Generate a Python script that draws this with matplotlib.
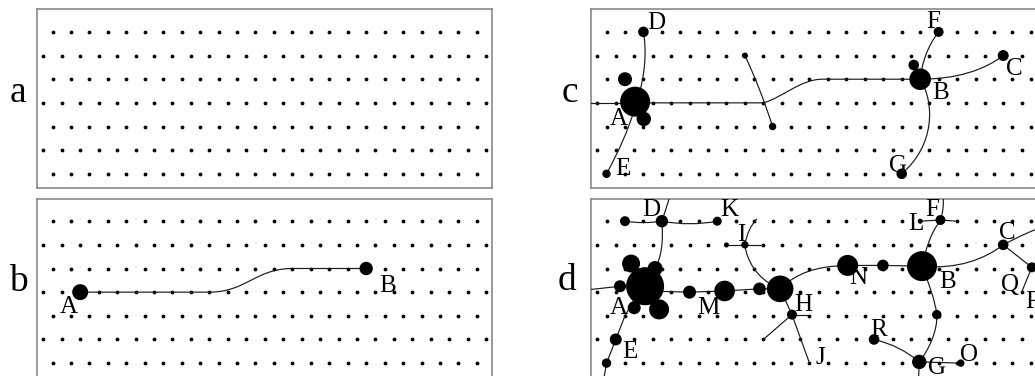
import numpy as np
import matplotlib
matplotlib.use("Agg")
import matplotlib.pyplot as plt
from matplotlib.path import Path
from matplotlib.patches import PathPatch

plt.rcParams['font.family'] = ['Liberation Serif', 'DejaVu Serif']

W, H = 1035, 376
fig = plt.figure(figsize=(W / 100, H / 100), dpi=100)

# ---------------- data ----------------
N_ROWS = 7
EVEN_ROW_COLS = [c + 0.5 for c in range(24)]
ODD_ROW_COLS = [float(c) for c in range(25)]

PANEL_NAMES = ["a", "b", "c", "d"]

# nodes: (x, y, radius_px)
NODES_A = []
NODES_B = [(2, 3, 8), (17.5, 2, 6.7)]
NODES_C = [(2.05, 2.95, 15), (1.5, 2.0, 7), (2.52, 3.68, 7.2), (2.5, 0, 5.3),
           (0.5, 6, 4.2), (8, 1, 3.0), (9.5, 4, 3.7), (17.5, 2, 10.8),
           (17.15, 1.4, 5.3), (18.5, 0, 5), (22, 1, 5.5), (16.5, 6, 5.3)]
NODES_D = [(2.59, 2.75, 19), (1.83, 1.79, 9), (3.13, 2.0, 7.5), (1.23, 2.75, 6),
           (2.0, 3.66, 6.5), (3.35, 3.73, 10), (5, 3, 6.5), (6.9, 2.95, 10.3),
           (8.79, 2.86, 6.3), (9.91, 2.86, 13.3), (1.5, 0, 5), (3.5, 0, 6.2),
           (6.5, 0, 4.5), (8, 1, 3.7), (7, 1, 2.5), (10.55, 3.95, 5),
           (13.57, 1.87, 10.5), (15.48, 1.87, 5.8), (17.6, 1.9, 15),
           (17.5, 0, 2.5), (18.6, -0.05, 5), (22, 1, 5.3), (23.55, 1.95, 5),
           (18.4, 3.95, 4.7), (15, 5, 5.3), (17.45, 5.95, 7.2), (19.7, 6, 3.7),
           (1, 5, 6), (0.5, 6, 4.7)]

# edges: (codes, points)  M=move, L=line, Q=quadratic, C=cubic
EDGES_A = []
EDGES_B = [("MLCCCL", [(2, 3), (9, 3), (11, 3), (11.5, 2), (13.5, 2), (17.5, 2)])]
EDGES_C = [
    ("ML", [(-0.5, 3), (2, 3)]),
    ("MLCCCL", [(2, 3), (9, 3), (10, 2.8), (11, 2.0), (12.2, 2.0), (17.5, 2)]),
    ("MQQ", [(8, 1), (8.8, 2.3), (9.5, 4)]),
    ("MCCC", [(2.5, 0), (2.68, 0.8), (2.6, 1.8), (2.2, 2.8)]),
    ("MQQ", [(2.0, 3.3), (1.55, 4.5), (0.5, 6)]),
    ("MCCC", [(17.5, 2), (17.6, 1.3), (17.9, 0.6), (18.5, 0)]),
    ("MCCC", [(17.5, 2), (19.5, 2), (21, 1.6), (22, 1)]),
    ("MCCC", [(17.5, 2), (18.3, 3), (18.3, 4.8), (16.5, 6)]),
]
EDGES_D = [
    ("ML", [(-0.5, 2.9), (1.23, 2.75)]),
    ("MLLLL", [(2.59, 2.95), (5, 3), (6.9, 2.95), (8.79, 2.86), (9.91, 2.86)]),
    ("MQQ", [(1.5, 0), (2.5, 0.12), (3.5, 0)]),
    ("MQQ", [(3.5, 0), (5.0, 0.22), (6.5, 0)]),
    ("MQQ", [(3.5, 0), (3.72, -0.5), (3.95, -1.1)]),
    ("MCCC", [(3.5, 0), (3.58, 0.8), (3.5, 1.5), (3.13, 2.0)]),
    ("MQQ", [(8, 1), (8.15, 0.3), (8.65, -0.1)]),
    ("MLL", [(7, 1), (8, 1), (9, 1)]),
    ("MCCC", [(8, 1), (8.1, 1.7), (8.7, 2.4), (9.6, 2.75)]),
    ("MCCC", [(9.91, 2.86), (10.8, 2.2), (11.8, 1.9), (13.57, 1.87)]),
    ("MLL", [(13.57, 1.87), (15.48, 1.87), (17.6, 1.9)]),
    ("ML", [(9.91, 2.86), (10.55, 3.95)]),
    ("ML", [(10.55, 3.95), (11.5, 3.95)]),
    ("ML", [(10.55, 3.95), (9.0, 5.0)]),
    ("ML", [(10.55, 3.95), (11.5, 6.0)]),
    ("MLL", [(17.5, 0), (18.6, -0.05), (19.5, 0)]),
    ("MQQ", [(18.6, -0.05), (18.8, -0.5), (18.75, -1.1)]),
    ("MCCC", [(18.6, 0), (18.1, 0.4), (17.8, 1.2), (17.6, 1.9)]),
    ("MCCC", [(17.6, 1.9), (19.5, 2.05), (21, 1.6), (22, 1)]),
    ("MQQ", [(22, 1), (23.3, 0.45), (24.6, 0.1)]),
    ("MLL", [(22, 1), (23.55, 1.95), (23, 3)]),
    ("MCCC", [(17.6, 1.9), (17.95, 2.6), (18.3, 3.3), (18.4, 3.95)]),
    ("MCCC", [(18.4, 3.95), (18.45, 4.6), (18.0, 5.4), (17.45, 5.95)]),
    ("MQQ", [(15, 5), (16.4, 5.25), (17.45, 5.95)]),
    ("ML", [(17.45, 5.95), (19.7, 6)]),
    ("ML", [(17.45, 5.95), (17.4, 6.9)]),
    ("MLLLL", [(2.0, 3.3), (1.5, 4.0), (1.0, 5.0), (0.5, 6.0), (0.3, 6.9)]),
]

# labels: (text, x_center, y_center)
LABELS_A = []
LABELS_B = [("A", 1.4, 3.52), ("B", 18.65, 2.64)]
LABELS_C = [("D", 3.22, -0.47), ("A", 1.14, 3.59), ("E", 1.36, 5.71),
            ("F", 18.23, -0.49), ("B", 18.63, 2.49), ("C", 22.61, 1.48),
            ("G", 16.28, 5.56)]
LABELS_D = [("D", 2.95, -0.57), ("K", 7.15, -0.57), ("I", 7.8, 0.49),
            ("A", 1.14, 3.56), ("M", 6.02, 3.59), ("H", 11.18, 3.45),
            ("E", 1.77, 5.45), ("J", 12.08, 5.68), ("N", 14.13, 2.3),
            ("B", 18.96, 2.49), ("L", 17.27, 0.04), ("F", 18.14, -0.57),
            ("C", 22.21, 0.42), ("Q", 22.39, 2.6), ("P", 23.57, 3.31),
            ("R", 15.25, 4.51), ("G", 18.42, 6.1), ("O", 20.13, 5.56)]

# ---------------- layout (pixels) ----------------
BOX_W, BOX_H = 455, 179
panel_boxes = {"a": (37, 9.3), "b": (37, 198.6), "c": (591, 9.3), "d": (591, 198.6)}
label_pos = {"a": (18, 102), "b": (18, 291), "c": (570, 102), "d": (567, 290)}
DX, DY = 18.45, 23.65
X_OFF, Y_OFF = 6.3, 22.6
LETTER_SIZE = 18
PANEL_LABEL_SIZE = 27

panels = {
    "a": (NODES_A, EDGES_A, LABELS_A),
    "b": (NODES_B, EDGES_B, LABELS_B),
    "c": (NODES_C, EDGES_C, LABELS_C),
    "d": (NODES_D, EDGES_D, LABELS_D),
}

CODE_MAP = {"M": Path.MOVETO, "L": Path.LINETO, "Q": Path.CURVE3, "C": Path.CURVE4}
LINE_COLOR = "#1a1a1a"
cap_rows = LETTER_SIZE * 100 / 72 * 0.655 / DY

for name in PANEL_NAMES:
    left, top = panel_boxes[name]
    ax = fig.add_axes([left / W, 1 - (top + BOX_H) / H, BOX_W / W, BOX_H / H])
    ax.set_xlim(-X_OFF / DX, (BOX_W - X_OFF) / DX)
    ax.set_ylim((BOX_H - Y_OFF) / DY, -Y_OFF / DY)
    ax.set_xticks([])
    ax.set_yticks([])
    for sp in ax.spines.values():
        sp.set_color("#8a8a8a")
        sp.set_linewidth(1.2)

    # grid dots
    gx, gy = [], []
    for r in range(N_ROWS):
        cols = EVEN_ROW_COLS if r % 2 == 0 else ODD_ROW_COLS
        gx.extend(cols)
        gy.extend([r] * len(cols))
    ax.scatter(gx, gy, s=(3.8 * 0.72) ** 2, color="black", linewidths=0, zorder=2)

    nodes, edges, labels = panels[name]
    for codes, pts in edges:
        path = Path(pts, [CODE_MAP[c] for c in codes])
        ax.add_patch(PathPatch(path, facecolor="none", edgecolor=LINE_COLOR,
                               linewidth=0.85, zorder=3))
    if nodes:
        nx = [n[0] for n in nodes]
        ny = [n[1] for n in nodes]
        ns = [(2 * n[2] * 0.72) ** 2 for n in nodes]
        ax.scatter(nx, ny, s=ns, color="black", linewidths=0, zorder=4)
    for txt, x, y in labels:
        ax.text(x, y + cap_rows / 2, txt, ha="center", va="baseline",
                fontsize=LETTER_SIZE, color="black", zorder=5)

    lx, ly = label_pos[name]
    fig.text(lx / W, 1 - ly / H, name, ha="center", va="baseline",
             fontsize=PANEL_LABEL_SIZE, color="black")

fig.savefig("out.png", dpi=100)
